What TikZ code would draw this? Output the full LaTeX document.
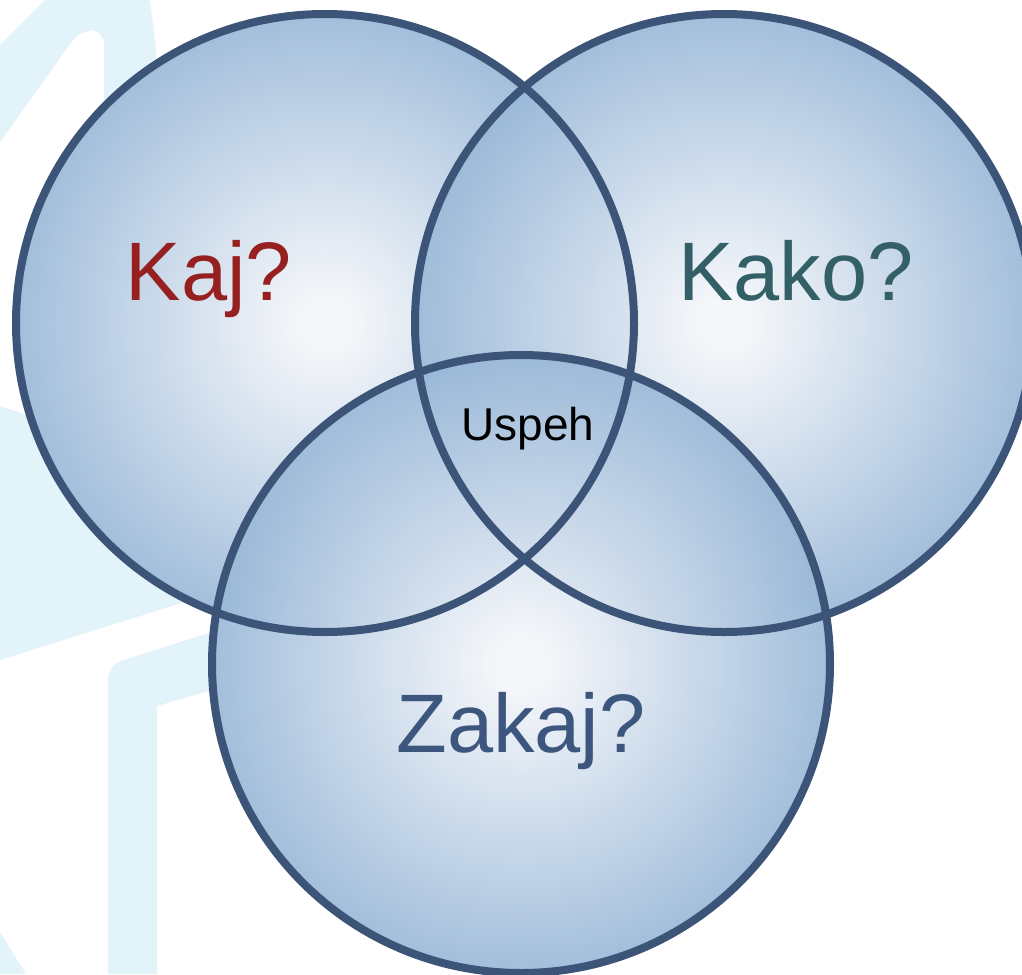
\documentclass[tikz,border=0pt]{standalone}
\usepackage{fontspec}
\setmainfont{Liberation Sans}
\definecolor{vinner}{RGB}{244,246,250}
\definecolor{vouter}{RGB}{153,184,216}
\definecolor{vline}{RGB}{59,84,120}
\definecolor{wmark}{RGB}{226,244,250}
\definecolor{kajcol}{RGB}{150,32,31}
\definecolor{kakocol}{RGB}{51,95,103}
\definecolor{zakajcol}{RGB}{60,86,125}
\pgfdeclareradialshading{vennshade}{\pgfpoint{0bp}{0bp}}{color(0bp)=(vinner); color(2bp)=(vinner); color(25bp)=(vouter); color(50bp)=(vouter)}
\tikzset{
  wm/.style={fill=wmark},
  vennfill/.style={shading=vennshade, fill opacity=0.9},
  vennline/.style={draw=vline, line width=8pt},
  bigtext/.style={anchor=base, inner sep=0pt, font=\fontsize{83}{83}\selectfont},
}
\begin{document}
\begin{tikzpicture}[x=1pt,y=-1pt]
\useasboundingbox (0,0) rectangle (1022,974);
\fill[white] (0,0) rectangle (1022,974);
% watermark shapes
\fill[wm] (0,45) -- (45,0) -- (150,0) -- (156,50) -- (156,330) -- (104,330) [rounded corners=14pt] -- (104,30) -- (80,30) [sharp corners] -- (0,142) -- cycle;
\fill[wm] (0,406) -- (100,440) -- (300,520) -- (300,560) -- (175,605) -- (0,660) -- cycle;
\fill[wm] (108,974) [rounded corners=14pt] -- (108,665) [sharp corners] -- (240,623) -- (240,682) -- (157,706) -- (157,974) -- cycle;
\fill[wm] (0,932) -- (26,974) -- (0,974) -- cycle;
% circle centres
\coordinate (cl) at (325,323);
\coordinate (cr) at (724,323);
\coordinate (cb) at (521,664);
% white base
\fill[white] (cl) circle[radius=309];
\fill[white] (cr) circle[radius=309];
\fill[white] (cb) circle[radius=309];
% fills
\shade[vennfill] (cl) circle[radius=309];
\shade[vennfill] (cr) circle[radius=309];
\shade[vennfill] (cb) circle[radius=309];
% outlines
\draw[vennline] (cl) circle[radius=309];
\draw[vennline] (cr) circle[radius=309];
\draw[vennline] (cb) circle[radius=309];
% labels
\node[bigtext, text=kajcol] (kaj) at (209,300) {Kaj?};
\node[bigtext, text=kakocol] (kako) at (796,300) {Kako?};
\node[bigtext, text=zakajcol] (zakaj) at (521,752) {Zakaj?};
\node[anchor=base, inner sep=0pt, font=\fontsize{46}{46}\selectfont] (uspeh) at (528,440) {Uspeh};
\end{tikzpicture}
\end{document}
